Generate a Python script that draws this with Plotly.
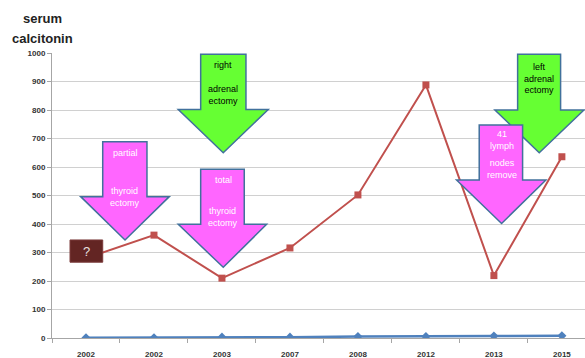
import plotly.graph_objects as go

# ---- data ----
categories = ["2002", "2002", "2003", "2007", "2008", "2012", "2013", "2015"]
calcitonin = [280, 361, 210, 316, 502, 888, 219, 636]
cea = [1, 1, 3, 3, 5, 5, 7, 8]
y_ticks = [0, 100, 200, 300, 400, 500, 600, 700, 800, 900, 1000]

x_idx = list(range(len(categories)))

FONT = "Arial, Liberation Sans, sans-serif"
MAGENTA = "#FF66FF"
GREEN = "#66FF33"
BORDER = "#41719C"

fig = go.Figure()
fig.add_trace(go.Scatter(x=x_idx, y=cea, mode="lines+markers",
                         line=dict(color="#4F81BD", width=2.5),
                         marker=dict(symbol="diamond", size=7, color="#4F81BD"),
                         showlegend=False))
fig.add_trace(go.Scatter(x=x_idx, y=calcitonin, mode="lines+markers",
                         line=dict(color="#C0504D", width=2),
                         marker=dict(symbol="square", size=7, color="#C0504D"),
                         showlegend=False))


def arrow(sl, sr, top, wing, hl, hr, tx, ty, fill):
    path = (f"M {sl} {top} L {sr} {top} L {sr} {wing} L {hr} {wing} "
            f"L {tx} {ty} L {hl} {wing} L {sl} {wing} Z")
    fig.add_shape(type="path", path=path, xref="x", yref="y",
                  fillcolor=fill, line=dict(color=BORDER, width=1.5), layer="above")


# arrows (data coordinates: category index, value)
arrow(0.246, 0.897, 689, 496, -0.078, 1.225, 0.574, 344, MAGENTA)   # partial thyroidectomy
arrow(1.687, 2.328, 592, 399, 1.357, 2.657, 2.019, 248, MAGENTA)    # total thyroidectomy
arrow(1.687, 2.353, 996, 802, 1.357, 2.681, 2.019, 650, GREEN)      # right adrenalectomy
arrow(6.349, 6.981, 996, 800, 6.015, 7.324, 6.667, 650, GREEN)      # left adrenalectomy
arrow(5.784, 6.422, 747, 554, 5.451, 6.765, 6.113, 402, MAGENTA)    # lymph nodes

# "?" box
fig.add_shape(type="rect", x0=-0.235, x1=0.246, y0=266, y1=344, xref="x", yref="y",
              fillcolor="#632523", line=dict(color="#7a3a3a", width=1), layer="above")
fig.add_annotation(x=0.005, y=305, xref="x", yref="y", text="?", showarrow=False,
                   font=dict(family=FONT, size=13, color="#E8E0E0"))


def label(x, y, text, color):
    fig.add_annotation(x=x, y=y, xref="x", yref="y", text=text, showarrow=False,
                       font=dict(family=FONT, size=9, color=color), align="center")


label(0.574, 650, "partial", "white")
label(0.574, 495, "thyroid<br>ectomy", "white")
label(2.019, 555, "total", "white")
label(2.019, 425, "thyroid<br>ectomy", "white")
label(2.019, 958, "right", "black")
label(2.019, 851, "adrenal<br>ectomy", "black")
label(6.667, 910, "left<br>adrenal<br>ectomy", "black")
label(6.113, 695, "41<br>lymph", "white")
label(6.113, 592, "nodes<br>remove", "white")

# axis title (two lines, placed above the plot at the top-left)
PLOT_L, PLOT_W, PLOT_B, PLOT_H = 52, 533, 338, 285
for txt, py in (("serum", 18), ("calcitonin", 38)):
    fig.add_annotation(x=(42 - PLOT_L) / PLOT_W, y=(PLOT_B - py) / PLOT_H,
                       xref="paper", yref="paper", text=f"<b>{txt}</b>",
                       showarrow=False, xanchor="center", yanchor="middle",
                       font=dict(family=FONT, size=13, color="#222"))

fig.update_layout(
    width=585, height=358,
    margin=dict(l=52, r=0, t=53, b=20),
    paper_bgcolor="white", plot_bgcolor="white",
    xaxis=dict(range=[-0.5, 7.34], tickvals=x_idx,
               ticktext=[f"<b>{c}</b>" for c in categories],
               tickfont=dict(family=FONT, size=8, color="#333"),
               showgrid=False, zeroline=False,
               showline=True, linecolor="#A6A6A6", linewidth=1,
               ticks="outside", ticklen=8, tickcolor="rgba(0,0,0,0)",
               minor=dict(tickvals=[i + 0.5 for i in range(-1, 8)], ticks="outside",
                          ticklen=4, tickcolor="#A6A6A6", showgrid=False)),
    yaxis=dict(range=[0, 1000], tickvals=y_ticks,
               ticktext=[f"<b>{v}</b>" for v in y_ticks],
               tickfont=dict(family=FONT, size=8, color="#333"),
               showgrid=True, gridcolor="#D0D0D0", gridwidth=1,
               zeroline=False, showline=True, linecolor="#A6A6A6",
               ticks="outside", ticklen=4, tickcolor="#A6A6A6"),
)

fig.write_html("out.html")
